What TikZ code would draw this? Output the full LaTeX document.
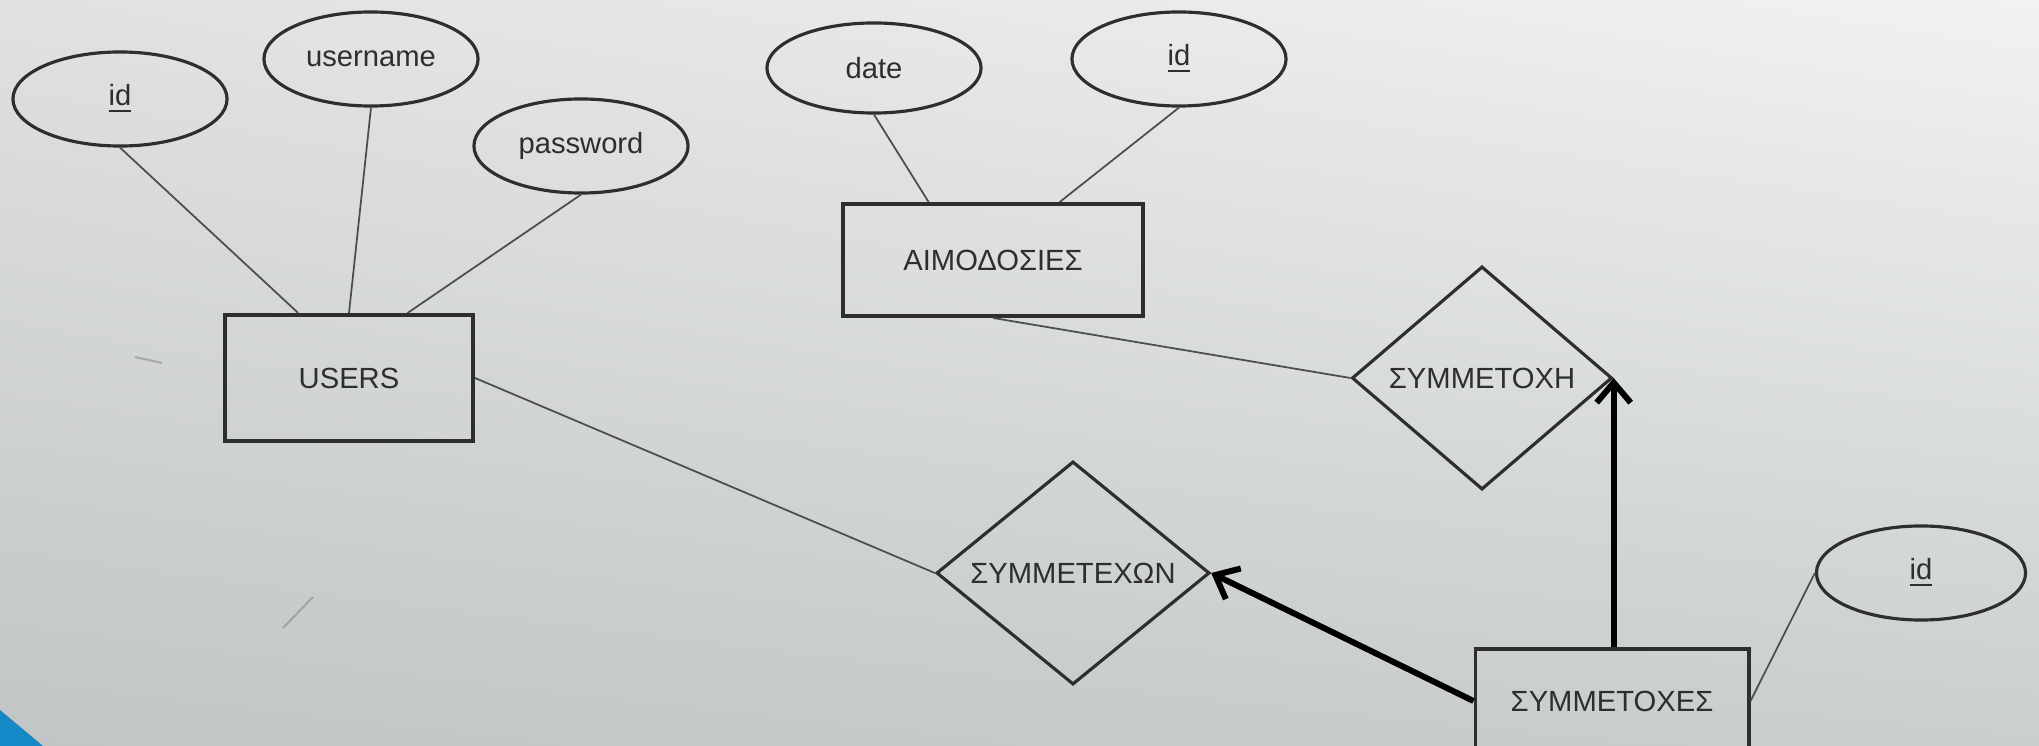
\documentclass[tikz,border=0pt]{standalone}
\usepackage{fontspec}
\setmainfont{Liberation Sans}
\usetikzlibrary{shapes.geometric,arrows.meta,shadings}
\definecolor{ink}{HTML}{2E2E2E}
\definecolor{bgul}{HTML}{E0E1E1}
\definecolor{bgur}{HTML}{F1F2F2}
\definecolor{bgll}{HTML}{C1C5C6}
\definecolor{bglr}{HTML}{CACECF}
\definecolor{corner}{HTML}{1589C8}
\begin{document}
\begin{tikzpicture}[x=0.01cm,y=-0.01cm,font=\fontsize{8.3}{10}\selectfont,
	attr/.style={ellipse,draw=ink,line width=0.9pt,minimum width=2.14cm,minimum height=0.94cm,inner sep=0pt,text=ink},
	entity/.style={rectangle,draw=ink,line width=1.1pt,inner sep=0pt,text=ink},
	rel/.style={diamond,draw=ink,line width=0.9pt,inner sep=0pt,text=ink},
	link/.style={draw=ink!85,line width=0.5pt},
	heavy/.style={draw=black,line width=1.7pt,-{Straight Barb[length=0.2cm,width=0.34cm]}}]
	\useasboundingbox (0,0) rectangle (2039,746);
	\shade[upper left=bgul,upper right=bgur,lower left=bgll,lower right=bglr] (0,0) rectangle (2039,746); %背景
	\fill[corner] (0,710) -- (43,746) -- (0,746) -- cycle;
	\draw[gray,opacity=0.5,line width=0.6pt] (135,357) -- (162,363) (283,628) -- (313,597); %汚れ
	% USERS
	\node[entity,minimum width=2.48cm,minimum height=1.26cm] (users) at (349,378) {USERS};
	\node[attr] (idU) at (120,99) {\underline{id}};
	\node[attr] (username) at (371,59) {username};
	\node[attr] (password) at (581,146) {password};
	% ΑΙΜΟΔΟΣΙΕΣ
	\node[entity,minimum width=2.99cm,minimum height=1.12cm] (aim) at (993,260) {ΑΙΜΟΔΟΣΙΕΣ};
	\node[attr,minimum height=0.9cm] (date) at (874,68) {date};
	\node[attr] (idA) at (1179,59) {\underline{id}};
	% ΣΥΜΜΕΤΟΧΕΣ
	\node[entity,minimum width=2.73cm,minimum height=1.04cm] (syms) at (1612,701) {ΣΥΜΜΕΤΟΧΕΣ};
	\node[attr,minimum width=2.09cm] (idS) at (1921,573) {\underline{id}};
	% relations
	\node[rel,minimum width=2.6cm,minimum height=2.23cm] (symh) at (1482,378) {\makebox[0pt]{ΣΥΜΜΕΤΟΧΗ}};
	\node[rel,minimum width=2.73cm,minimum height=2.23cm] (symx) at (1073,573) {\makebox[0pt]{ΣΥΜΜΕΤΕΧΩΝ}};
	\draw[link] (idU.south) -- (users.128);
	\draw[link] (username.south) -- (users.north);
	\draw[link] (password.south) -- (users.48);
	\draw[link] (date.south) -- (aim.138);
	\draw[link] (idA.south) -- (aim.41);
	\draw[link] (aim.south) -- (symh.west);
	\draw[link] (users.east) -- (symx.west);
	\draw[link] (syms.east) -- (idS.west);
	\draw[heavy] (symh.east |- syms.north) -- (symh.east);
	\draw[heavy] (syms.west) -- (symx.east);
\end{tikzpicture}
\end{document}
